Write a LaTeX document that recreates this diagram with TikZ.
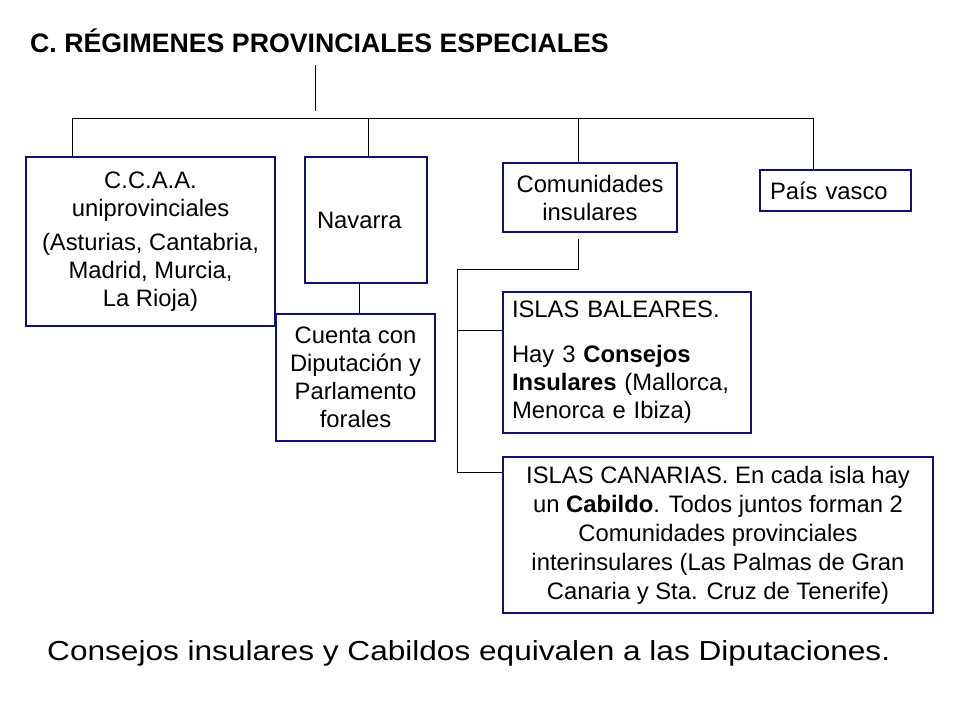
\documentclass[tikz,border=0pt]{standalone}
\usepackage{fontspec}
\setmainfont{Liberation Sans}
\usepackage{graphicx}
\usetikzlibrary{positioning}
\definecolor{azulmarino}{RGB}{16,16,122}
\tikzset{
  caja/.style={
    draw=azulmarino,
    line width=2pt,
    align=center,
    inner sep=0pt,
    font=\fontsize{23.8}{28}\selectfont
  },
  cajaizq/.style={
    caja,
    align=left
  },
  linea/.style={
    line width=1pt,
    black
  }
}

\begin{document}
\begin{tikzpicture}[x=1pt,y=-1pt]
\useasboundingbox (0,0) rectangle (960,720);
\node[anchor=base west, inner sep=0pt, font=\bfseries\fontsize{26.7}{32}\selectfont] (titulo) at (30,52) {C. RÉGIMENES PROVINCIALES ESPECIALES};
\node[caja, minimum width=249pt, minimum height=169pt] (ccaa) at (150.5,241.5) {C.C.A.A.\\uniprovinciales\\[6pt](Asturias, Cantabria,\\Madrid, Murcia,\\La Rioja)};
\node[cajaizq, minimum width=122pt, minimum height=126pt, text width=98pt] (navarra) at (366,220) {Navarra};
\node[caja, minimum width=159pt, minimum height=127pt] (cuenta) at (355.5,377.5) {Cuenta con\\Diputación y\\Parlamento\\forales};
\node[caja, minimum width=174pt, minimum height=69pt] (comunidades) at (590,197.5) {Comunidades\\insulares};
\node[cajaizq, minimum width=151pt, minimum height=41pt, text width=131pt] (pais) at (835.5,190.5) {País vasco};
\node[cajaizq, minimum width=248pt, minimum height=141pt, text width=230pt] (baleares) at (627,362.5) {ISLAS BALEARES.\\[17pt]Hay 3 \textbf{Consejos}\\\textbf{Insulares} (Mallorca,\\Menorca e Ibiza)};
\node[caja, minimum width=430pt, minimum height=156pt, font=\fontsize{23.8}{29}\selectfont] (canarias) at (718,535) {ISLAS CANARIAS. En cada isla hay\\un \textbf{Cabildo}. Todos juntos forman 2\\Comunidades provinciales\\interinsulares (Las Palmas de Gran\\Canaria y Sta. Cruz de Tenerife)};
\node[anchor=base west, inner sep=0pt, font=\fontsize{27.5}{32}\selectfont] (nota) at (47,660) {\resizebox{843pt}{\height}{Consejos insulares y Cabildos equivalen a las Diputaciones.}};
% arbol principal
\coordinate (raiz) at (315,65);
\coordinate (raizfin) at (315,111);
\coordinate (bus1) at (72,118);
\coordinate (bus2) at (368,118);
\coordinate (bus3) at (578,118);
\coordinate (bus4) at (813,118);
\draw[linea] (raiz) -- (raizfin);
\draw[linea] (bus1) -- (bus4);
\draw[linea] (bus1) -- (bus1 |- ccaa.north);
\draw[linea] (bus2) -- (bus2 |- navarra.north);
\draw[linea] (bus3) -- (bus3 |- comunidades.north);
\draw[linea] (bus4) -- (bus4 |- pais.north);
% navarra
\coordinate (nv) at (359,0);
\draw[linea] (nv |- navarra.south) -- (nv |- cuenta.north);
% islas
\coordinate (ci) at (578,239);
\coordinate (rama) at (457,269);
\coordinate (b1) at (503,330);
\coordinate (c1) at (503,472);
\draw[linea] (ci) |- (rama) |- (c1);
\draw[linea] (rama |- b1) -- (b1);
\end{tikzpicture}
\end{document}
